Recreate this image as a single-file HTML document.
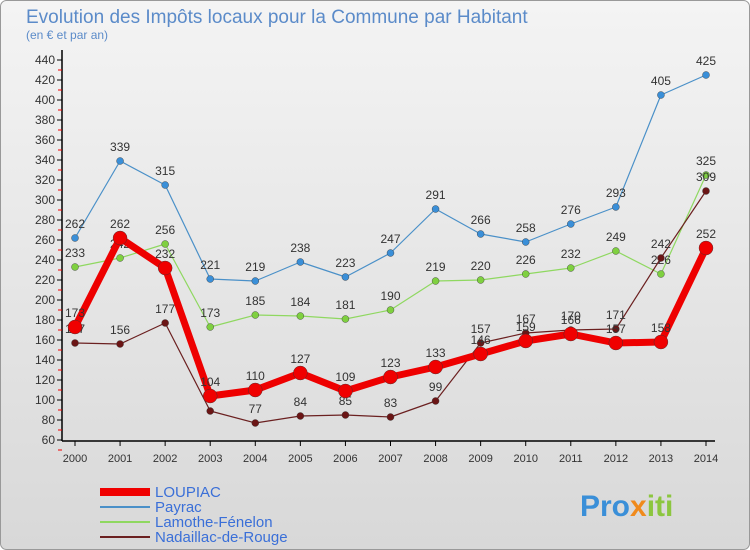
<!DOCTYPE html>
<html><head><meta charset="utf-8"><style>
body{margin:0;width:750px;height:550px;overflow:hidden;font-family:"Liberation Sans",sans-serif}
#c{position:absolute;left:0;top:0}
</style></head><body>
<svg id="c" width="750" height="550" xmlns="http://www.w3.org/2000/svg">
<defs><linearGradient id="bg" x1="0" y1="0" x2="0" y2="1"><stop offset="0" stop-color="#f4f4f4"/><stop offset="1" stop-color="#d8d8d8"/></linearGradient></defs>
<rect x="0.5" y="0.5" width="749" height="549" rx="6" fill="url(#bg)" stroke="#999"/>
<text x="26" y="23" font-size="19" fill="#5b8bc9">Evolution des Impôts locaux pour la Commune par Habitant</text>
<text x="26" y="39" font-size="12" fill="#5b8bc9">(en € et par an)</text>
<g id="axes"></g><g id="series"></g><g id="legend"></g>
<text x="580" y="516" font-size="30" font-weight="bold" fill="#3a8fd8">Pro<tspan fill="#f08a1c">x</tspan><tspan fill="#8cc63f">iti</tspan></text>
</svg>
<script>
const years=[2000,2001,2002,2003,2004,2005,2006,2007,2008,2009,2010,2011,2012,2013,2014];
const yTicks=[60,80,100,120,140,160,180,200,220,240,260,280,300,320,340,360,380,400,420,440];
const loupiac=[173,262,232,104,110,127,109,123,133,146,159,166,157,158,252];
const payrac=[262,339,315,221,219,238,223,247,291,266,258,276,293,405,425];
const lamothe=[233,242,256,173,185,184,181,190,219,220,226,232,249,226,325];
const nadaillac=[157,156,177,89,77,84,85,83,99,157,167,170,171,242,309];
const NS="http://www.w3.org/2000/svg";
function xs(i){return 75+i*(706-75)/(years.length-1);}
function ys(v){return 440-(v-60)*(380/380);}
function mk(tag,attrs,parent,text){const e=document.createElementNS(NS,tag);for(const k in attrs)e.setAttribute(k,attrs[k]);if(text!==undefined)e.textContent=text;parent.appendChild(e);return e;}
const ax=document.getElementById('axes');
let l=mk('line',{x1:62,y1:50,x2:62,y2:441,stroke:'#000','stroke-width':1.5},ax);


l=mk('line',{x1:62,y1:441,x2:715,y2:441,stroke:'#000','stroke-width':1.5},ax);


yTicks.forEach(v=>{const y=ys(v);
 mk('line',{x1:57,y1:y,x2:62,y2:y,stroke:'#000'},ax);
 mk('line',{x1:58,y1:y+10,x2:62,y2:y+10,stroke:'#e00'},ax);
 const t=mk('text',{x:55,y:y+4,'font-size':12,'text-anchor':'end',fill:'#333'},ax,String(v));
 
 });
years.forEach((yr,i)=>{const x=xs(i);
 mk('line',{x1:x,y1:441,x2:x,y2:446,stroke:'#000'},ax);
 const t=mk('text',{x:x,y:462,'font-size':11,'text-anchor':'middle',fill:'#333'},ax,String(yr));
 
 });
const sg=document.getElementById('series');
function draw(data,name,color,w,r,dot){
 const g=mk('g',{},sg);
 
 
 const p=mk('polyline',{points:data.map((v,i)=>xs(i)+','+ys(v)).join(' '),fill:'none',stroke:color,'stroke-width':w,'stroke-linejoin':'round'},g);
 
 
 data.forEach((v,i)=>{const c=mk('circle',{cx:xs(i),cy:ys(v),r:r,fill:dot,stroke:'#333','stroke-width':0.4},g);
  
  
  const t=mk('text',{x:xs(i),y:ys(v)-10,'font-size':12,'text-anchor':'middle',fill:'#333'},g,String(v));
  
  });
}
draw(payrac,'payrac','#4a90c8',1.2,3.5,'#3a8fd8');
draw(lamothe,'lamothe-fenelon','#8fd860',1.2,3.5,'#7fd040');
draw(nadaillac,'nadaillac-de-rouge','#6b2020',1.2,3.5,'#6b1515');
draw(loupiac,'loupiac','#ee0000',7,7,'#f00000');
const lg=document.getElementById('legend');
const items=[['LOUPIAC','#f00000',8],['Payrac','#4a90c8',2],['Lamothe-Fénelon','#8fd860',2],['Nadaillac-de-Rouge','#6b2020',2]];
items.forEach((it,i)=>{const y=492+i*15;
 const ln=mk('line',{x1:100,y1:y,x2:150,y2:y,stroke:it[1],'stroke-width':it[2]},lg);
 
 
 const t=mk('text',{x:155,y:y+5,'font-size':15,fill:'#3a6fd8'},lg,it[0]);
 
 });
</script>
</body></html>
